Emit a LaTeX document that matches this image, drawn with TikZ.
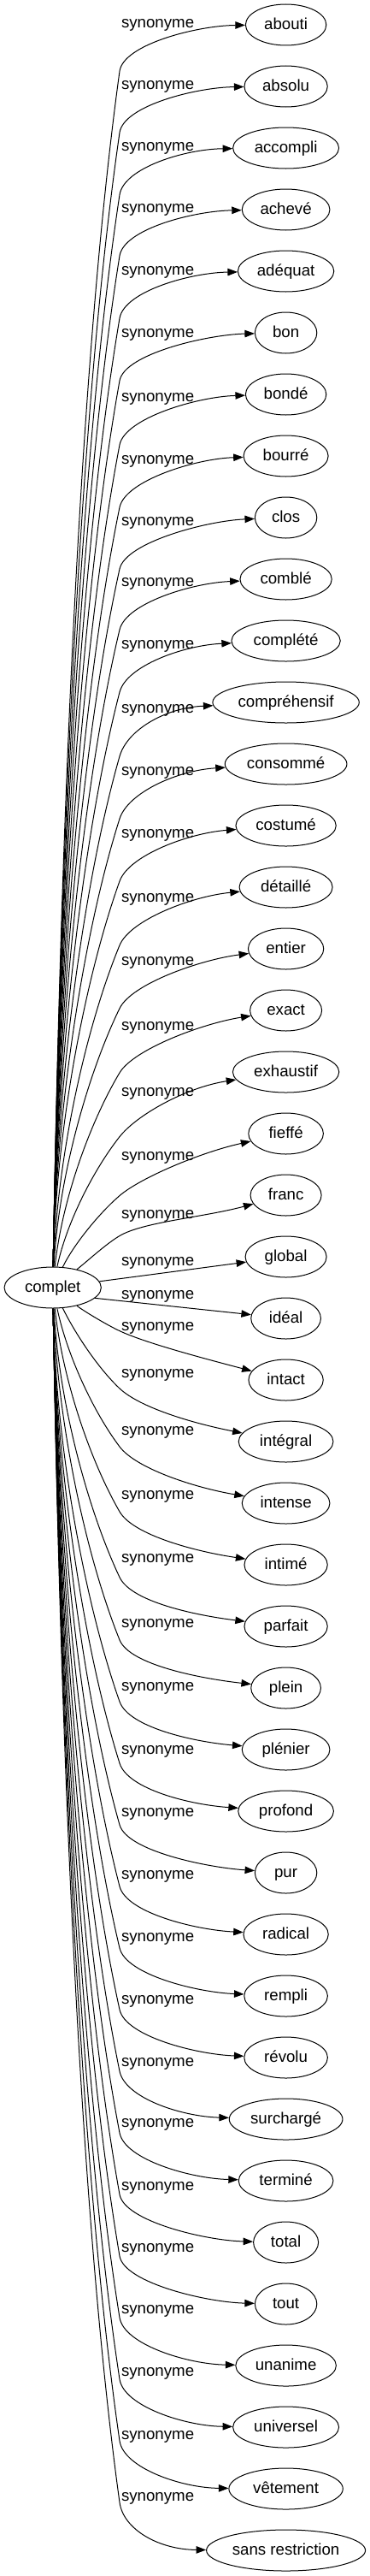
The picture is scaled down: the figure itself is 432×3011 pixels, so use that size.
\documentclass[tikz,border=0pt]{standalone}
\usepackage{fontspec}
\setmainfont{Liberation Sans}
\usetikzlibrary{shapes.geometric,arrows.meta}
\tikzset{
    word/.style={ellipse, draw, line width=1pt, minimum height=48pt, inner sep=0pt, text height=13.5pt, text depth=2.5pt},
    link/.style={line width=1pt, -{Triangle[length=11.5pt, width=8.5pt]}},
    linktext/.style={anchor=base, inner sep=0pt}
}
\begin{document}
\begin{tikzpicture}[x=1pt, y=-1pt, font=\fontsize{18.67}{22}\selectfont]
    \useasboundingbox (0, 0) rectangle (432, 3011);
    \node (complet) at (61.7, 1505) [word, minimum width=113.3pt] {complet};
    \node (abouti) at (334.6, 29) [word, minimum width=94.4pt] {abouti};
    \node (absolu) at (334.6, 101) [word, minimum width=97.3pt] {absolu};
    \node (accompli) at (334.6, 173) [word, minimum width=124pt] {accompli};
    \node (acheve) at (334.6, 245) [word, minimum width=102.7pt] {achevé};
    \node (adequat) at (334.6, 317) [word, minimum width=112.4pt] {adéquat};
    \node (bon) at (334.6, 389) [word, minimum width=72.4pt] {bon};
    \node (bonde) at (334.6, 461) [word, minimum width=94.4pt] {bondé};
    \node (bourre) at (334.6, 533) [word, minimum width=99pt] {bourré};
    \node (clos) at (334.6, 605) [word, minimum width=72.4pt] {clos};
    \node (comble) at (334.6, 677) [word, minimum width=107.3pt] {comblé};
    \node (complete) at (334.6, 749) [word, minimum width=127.3pt] {complété};
    \node (comprehensif) at (334.6, 821) [word, minimum width=171.4pt] {compréhensif};
    \node (consomme) at (334.6, 893) [word, minimum width=142.7pt] {consommé};
    \node (costume) at (334.6, 965) [word, minimum width=117.3pt] {costumé};
    \node (detaille) at (334.6, 1037) [word, minimum width=109pt] {détaillé};
    \node (entier) at (334.6, 1109) [word, minimum width=88.3pt] {entier};
    \node (exact) at (334.6, 1181) [word, minimum width=84pt] {exact};
    \node (exhaustif) at (334.6, 1253) [word, minimum width=124.4pt] {exhaustif};
    \node (fieffe) at (334.6, 1325) [word, minimum width=87.6pt] {fieffé};
    \node (franc) at (334.6, 1397) [word, minimum width=83pt] {franc};
    \node (global) at (334.6, 1469) [word, minimum width=95pt] {global};
    \node (ideal) at (334.6, 1541) [word, minimum width=81.7pt] {idéal};
    \node (intact) at (334.6, 1613) [word, minimum width=87.3pt] {intact};
    \node (integral) at (334.6, 1685) [word, minimum width=110.7pt] {intégral};
    \node (intense) at (334.6, 1757) [word, minimum width=102.7pt] {intense};
    \node (intime) at (334.6, 1829) [word, minimum width=97.3pt] {intimé};
    \node (parfait) at (334.6, 1901) [word, minimum width=97.3pt] {parfait};
    \node (plein) at (334.6, 1973) [word, minimum width=81.7pt] {plein};
    \node (plenier) at (334.6, 2045) [word, minimum width=102.7pt] {plénier};
    \node (profond) at (334.6, 2117) [word, minimum width=111.7pt] {profond};
    \node (pur) at (334.6, 2189) [word, minimum width=72.4pt] {pur};
    \node (radical) at (334.6, 2261) [word, minimum width=99.3pt] {radical};
    \node (rempli) at (334.6, 2333) [word, minimum width=97.6pt] {rempli};
    \node (revolu) at (334.6, 2405) [word, minimum width=97.6pt] {révolu};
    \node (surcharge) at (334.6, 2477) [word, minimum width=132.7pt] {surchargé};
    \node (termine) at (334.6, 2549) [word, minimum width=110.7pt] {terminé};
    \node (total) at (334.6, 2621) [word, minimum width=76pt] {total};
    \node (tout) at (334.6, 2693) [word, minimum width=72.4pt] {tout};
    \node (unanime) at (334.6, 2765) [word, minimum width=117.6pt] {unanime};
    \node (universel) at (334.6, 2837) [word, minimum width=124pt] {universel};
    \node (vetement) at (334.6, 2909) [word, minimum width=133.4pt] {vêtement};
    \node (sansrestriction) at (334.6, 2981) [word, minimum width=186pt] {sans restriction};
    \foreach \word/\ly [count=\j from 0] in {abouti/27.3, absolu/99, accompli/171.7, acheve/243, adequat/316, bon/389, bonde/464, bourre/537, clos/609, comble/680, complete/753, comprehensif/828, consomme/901, costume/974, detaille/1049, entier/1123, exact/1199, exhaustif/1276, fieffe/1351.7, franc/1419} {
        \node (syn\j) at (184.6, \ly+5) [linktext] {synonyme};
        \pgfmathsetmacro\kk{19-\j}
        \pgfmathtruncatemacro\ang{90-53*exp(-min(0.75*\kk, 9))}
        \pgfmathsetmacro\rad{56.65*24/veclen(24*cos(\ang), 56.65*sin(\ang))}
        \pgfmathsetmacro\sx{61.7+\rad*cos(\ang)}
        \pgfmathsetmacro\sy{1505-\rad*sin(\ang)}
        \pgfmathsetmacro\ey{\ly+6+50*(1-exp(-min(1.1*(\kk+0.45), 9)))}
        \pgfmathsetmacro\dist{\sy-\ey}
        \pgfmathsetmacro\sh{35*(\dist/(\dist+300))}
        \pgfmathsetmacro\tx{0.25*(140-\sx)+\sh}
        \pgfmathsetmacro\ty{0.25*(\ey-\sy)}
        \pgfmathsetmacro\tlen{veclen(\tx, \ty)}
        \pgfmathsetmacro\ax{\sx+0.35*\dist*cos(\ang)}
        \pgfmathsetmacro\ay{\sy-0.35*\dist*sin(\ang)}
        \pgfmathsetmacro\cx{140+32*(\tx/\tlen)}
        \pgfmathsetmacro\cy{\ey+32*(\ty/\tlen)}
        \pgfmathsetmacro\dy{-26*exp(-min(0.18*\kk, 9))}
        \draw[link] (complet.\ang) .. controls (\ax, \ay) and (140-\tx, \ey-\ty) .. (140, \ey) .. controls (\cx, \cy) and ([xshift=-55pt, yshift=\dy pt]\word.west) .. (\word);
    }
    \node (syn20) at (184.6, 1479) [linktext] {synonyme};
    \node (syn21) at (184.6, 1518.3) [linktext] {synonyme};
    \draw[link] (complet) -- (global);
    \draw[link] (complet.-14) -- (ideal);
    \foreach \word/\ly [count=\j from 22] in {intact/1550, integral/1605, intense/1672.7, intime/1747.3, parfait/1821, plein/1897, plenier/1971, profond/2045, pur/2118, radical/2191, rempli/2264, revolu/2337, surcharge/2410, termine/2481, total/2555, tout/2627, unanime/2699, universel/2772, vetement/2846, sansrestriction/2918} {
        \node (syn\j) at (184.6, \ly+5) [linktext] {synonyme};
        \pgfmathsetmacro\kk{\j-22}
        \pgfmathtruncatemacro\ang{-90+53*exp(-min(0.75*\kk, 9))}
        \pgfmathsetmacro\rad{56.65*24/veclen(24*cos(\ang), 56.65*sin(\ang))}
        \pgfmathsetmacro\sx{61.7+\rad*cos(\ang)}
        \pgfmathsetmacro\sy{1505-\rad*sin(\ang)}
        \pgfmathsetmacro\ey{29+72*\j-56-10*exp(-min(0.5*(\kk-2)*(\kk-2), 9))}
        \pgfmathsetmacro\dist{\ey-\sy}
        \pgfmathsetmacro\sh{35*(\dist/(\dist+300))}
        \pgfmathsetmacro\tx{0.25*(140-\sx)+\sh}
        \pgfmathsetmacro\ty{0.25*(\ey-\sy)}
        \pgfmathsetmacro\tlen{veclen(\tx, \ty)}
        \pgfmathsetmacro\ax{\sx+0.35*\dist*cos(\ang)}
        \pgfmathsetmacro\ay{\sy-0.35*\dist*sin(\ang)}
        \pgfmathsetmacro\cx{140+32*(\tx/\tlen)}
        \pgfmathsetmacro\cy{\ey+32*(\ty/\tlen)}
        \pgfmathsetmacro\dy{26*exp(-min(0.18*\kk, 9))}
        \draw[link] (complet.\ang) .. controls (\ax, \ay) and (140-\tx, \ey-\ty) .. (140, \ey) .. controls (\cx, \cy) and ([xshift=-55pt, yshift=\dy pt]\word.west) .. (\word);
    }
\end{tikzpicture}
\end{document}
